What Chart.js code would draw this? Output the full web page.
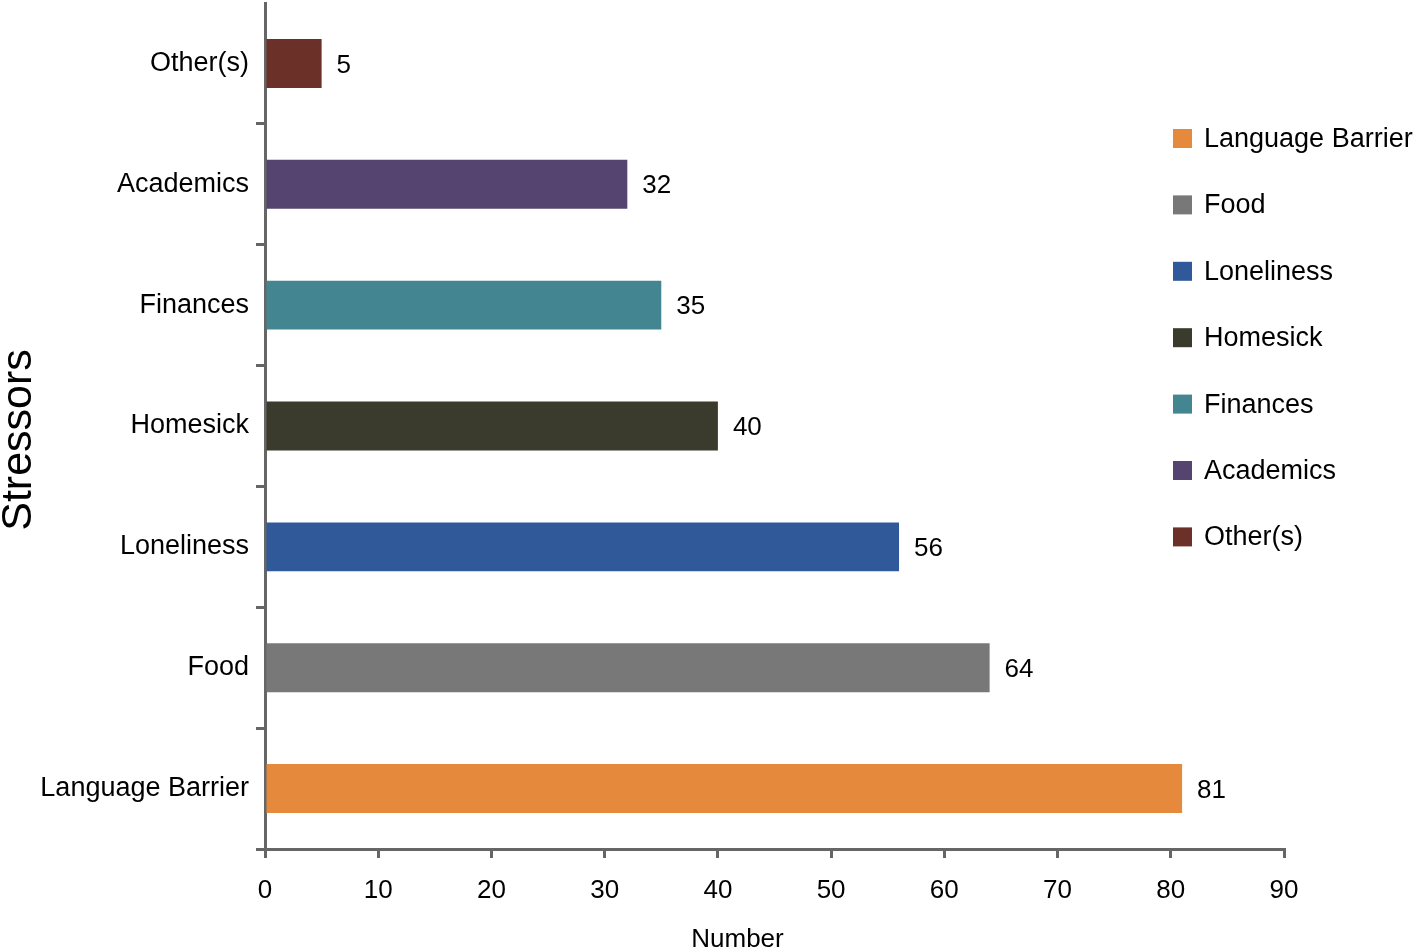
<!DOCTYPE html>
<html>
<head>
<meta charset="utf-8">
<script src="https://cdn.jsdelivr.net/npm/chart.js@4"></script>
<style>
  html, body { margin: 0; padding: 0; background: #fff; }
  #wrap { width: 1413px; height: 951px; }
</style>
</head>
<body>
<div id="wrap"><canvas id="c" width="1413" height="951"></canvas></div>
<script>
const categories = ['Language Barrier', 'Food', 'Loneliness', 'Homesick', 'Finances', 'Academics', 'Other(s)'];
const counts = [81, 64, 56, 40, 35, 32, 5];
const barColors = ['#E58A3C', '#787878', '#30599A', '#3A3B2C', '#438591', '#55446F', '#6B3129'];
const xTicks = [0, 10, 20, 30, 40, 50, 60, 70, 80, 90];
const xTitle = 'Number';
const yTitle = 'Stressors';

const FONT = '"Liberation Sans", Arial, Helvetica, sans-serif';
const AXIS = '#666666';

const valueLabels = {
  id: 'valueLabels',
  afterDatasetsDraw(chart) {
    const ctx = chart.ctx;
    const meta = chart.getDatasetMeta(0);
    ctx.save();
    ctx.font = '26px ' + FONT;
    ctx.fillStyle = '#000';
    ctx.textAlign = 'left';
    ctx.textBaseline = 'middle';
    meta.data.forEach((bar, i) => {
      ctx.fillText(String(chart.data.datasets[0].data[i]), bar.x + 15, bar.y + 2);
    });
    ctx.restore();
  }
};

const sideLegend = {
  id: 'sideLegend',
  afterDraw(chart) {
    const ctx = chart.ctx;
    const ds = chart.data.datasets[0];
    const x0 = 1173, y0 = 138.5, step = 66.4, box = 19;
    ctx.save();
    ctx.font = '27px ' + FONT;
    ctx.textAlign = 'left';
    ctx.textBaseline = 'middle';
    chart.data.labels.forEach((lab, i) => {
      const cy = y0 + i * step;
      ctx.fillStyle = ds.backgroundColor[i];
      ctx.fillRect(x0, cy - box / 2, box, box);
      ctx.fillStyle = '#000';
      ctx.fillText(lab, 1204, cy + 1);
    });
    ctx.restore();
  }
};

// shift axis titles slightly (reference titles are not centred on the plot area)
const titleShift = {
  id: 'titleShift',
  afterLayout(chart) {
    const shifts = { x: [-37, 0], y: [0, 14] };
    Object.keys(shifts).forEach((id) => {
      const s = chart.scales[id];
      if (!s || s._titleWrapped) return;
      const orig = s.drawTitle.bind(s);
      const [dx, dy] = shifts[id];
      s.drawTitle = function () {
        chart.ctx.save();
        chart.ctx.translate(dx, dy);
        orig();
        chart.ctx.restore();
      };
      s._titleWrapped = true;
    });
  }
};

new Chart(document.getElementById('c'), {
  type: 'bar',
  data: {
    labels: categories,
    datasets: [{
      data: counts,
      backgroundColor: barColors,
      borderWidth: 0,
      barPercentage: 0.405,
      categoryPercentage: 1.0
    }]
  },
  plugins: [valueLabels, sideLegend, titleShift],
  options: {
    indexAxis: 'y',
    responsive: false,
    devicePixelRatio: 1,
    animation: false,
    layout: { padding: { left: 0, top: 3, right: 129, bottom: 0 } },
    plugins: {
      legend: { display: false },
      tooltip: { enabled: false }
    },
    scales: {
      x: {
        type: 'linear',
        min: 0,
        max: 90,
        afterBuildTicks: (s) => { s.ticks = xTicks.map(v => ({ value: v })); },
        afterFit: (s) => { s.height = 102; s.paddingLeft = 0; s.paddingRight = 0; },
        border: { display: true, color: AXIS, width: 3 },
        grid: { drawOnChartArea: false, drawTicks: true, tickLength: 9, color: AXIS, lineWidth: 3 },
        ticks: { color: '#000', font: { family: FONT, size: 26 }, padding: 17, maxRotation: 0 },
        title: { display: true, text: xTitle, color: '#000', font: { family: FONT, size: 26 }, padding: { top: 0, bottom: -4.6 } }
      },
      y: {
        reverse: true,
        afterFit: (s) => { s.width = 265; s.paddingTop = 0; s.paddingBottom = 0; },
        border: { display: true, color: AXIS, width: 3 },
        grid: {
          offset: true,
          drawOnChartArea: false,
          drawTicks: true,
          tickLength: 9,
          lineWidth: 3,
          color: (c) => (c.type === 'scale' ? 'rgba(0,0,0,0)' : AXIS)
        },
        ticks: { color: '#000', font: { family: FONT, size: 27 }, padding: 7 },
        title: { display: true, text: yTitle, color: '#000', font: { family: FONT, size: 43 }, padding: { top: -7, bottom: 0 } }
      }
    }
  }
});
</script>
</body>
</html>
